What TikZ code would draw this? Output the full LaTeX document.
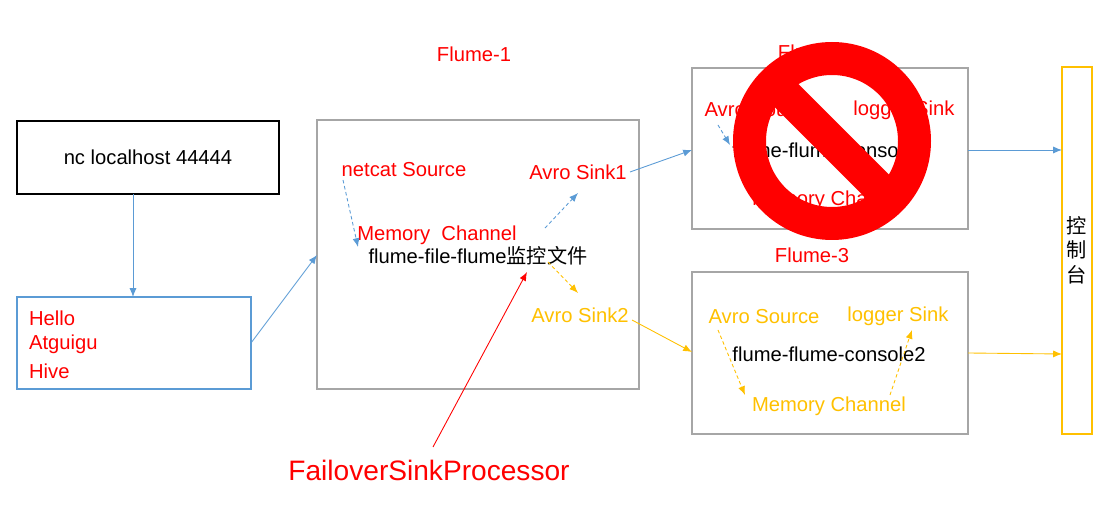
\documentclass[tikz,border=0pt]{standalone}
\usepackage{fontspec}
\setmainfont{Liberation Sans}
\newfontfamily\cjk{Noto Sans CJK SC}
\usetikzlibrary{arrows.meta}
\definecolor{lblue}{RGB}{91,155,213}
\definecolor{lorange}{RGB}{255,192,0}
\definecolor{lgray}{RGB}{166,166,166}
\begin{document}
\begin{tikzpicture}[x=0.02cm,y=-0.02cm,
  txt/.style={font=\fontsize{11.5}{13}\selectfont, inner sep=1pt},
  rtx/.style={txt, text=red},
  otx/.style={txt, text=lorange},
  box/.style={draw=lgray, line width=0.8pt},
  arr/.style={-{Latex[length=5pt,width=4pt]}, line width=0.5pt},
  darr/.style={arr, dashed, dash pattern=on 2pt off 1.5pt}]
\useasboundingbox (0,0) rectangle (1110,506);

% input side
\node[draw, line width=0.8pt, minimum width=262*0.02cm, minimum height=73*0.02cm, txt] (nc) at (148,157.5) {nc localhost 44444};
\node[draw=lblue, line width=0.8pt, minimum width=234*0.02cm, minimum height=92*0.02cm] (hello) at (134,343) {};
\node[rtx, anchor=west] (h1) at (27,318) {Hello};
\node[rtx, anchor=west] (h2) at (27,344) {Atguigu};
\node[rtx, anchor=west] (h3) at (27,371) {Hive};

% Flume-1
\node[box, minimum width=322*0.02cm, minimum height=269*0.02cm] (f1) at (478,254.5) {};
\node[rtx] (f1l) at (474,54) {Flume-1};
\node[rtx] (src1) at (404,170) {netcat Source};
\node[rtx] (ch1) at (437,235) {Memory\ \ Channel};
\node[txt] (t1) at (478,256) {flume-file-flume{\cjk 监控文件}};
\node[rtx] (sk1) at (578,172) {Avro Sink1};
\node[otx] (sk2) at (580,315) {Avro Sink2};

% Flume-2
\node[box, minimum width=276*0.02cm, minimum height=161*0.02cm] (f2) at (830,148.5) {};
\node[rtx] (f2l) at (815,52) {Flume-2};
\node[rtx] (src2) at (760,110) {Avro Source};
\node[rtx] (sk2b) at (904,110) {logger Sink};
\node[txt] (t2) at (829,150) {flume-flume-console1};
\node[rtx] (ch2) at (829,200) {Memory Channel};

% Flume-3
\node[box, minimum width=276*0.02cm, minimum height=162*0.02cm] (f3) at (830,353) {};
\node[rtx] (f3l) at (812,255) {Flume-3};
\node[otx] (src3) at (764,317) {Avro Source};
\node[otx] (sk3) at (898,316) {logger Sink};
\node[txt] (t3) at (829,354) {flume-flume-console2};
\node[otx] (ch3) at (829,406) {Memory Channel};

% console
\node[draw=lorange, line width=0.8pt, minimum width=30*0.02cm, minimum height=367*0.02cm] (con) at (1077,250.5) {};
\node[txt, align=center, font=\fontsize{11.5}{14}\cjk] (cont) at (1077,250) {控\\制\\台};

\node[rtx, font=\fontsize{16}{18}\selectfont] (fsp) at (429,470) {FailoverSinkProcessor};

% connectors
\coordinate (a1) at (133,194); \coordinate (a2) at (133,297);
\draw[arr, lblue] (a1) -- (a2);
\coordinate (b1) at (251,343); \coordinate (b2) at (317,255);
\draw[arr, lblue] (b1) -- (b2);
\coordinate (c1) at (630,172); \coordinate (c2) at (692,150);
\draw[arr, lblue] (c1) -- (c2);
\coordinate (d1) at (968,150); \coordinate (d2) at (1062,150);
\draw[arr, lblue] (d1) -- (d2);
\coordinate (e1) at (632,320); \coordinate (e2) at (692,352);
\draw[arr, lorange] (e1) -- (e2);
\coordinate (g1) at (968,353); \coordinate (g2) at (1062,354);
\draw[arr, lorange] (g1) -- (g2);

\coordinate (p1) at (343,180); \coordinate (p2) at (358,247);
\draw[darr, lblue] (p1) -- (p2);
\coordinate (q1) at (545,228); \coordinate (q2) at (578,193);
\draw[darr, lblue] (q1) -- (q2);
\coordinate (r1) at (548,262); \coordinate (r2) at (578,293);
\draw[darr, lorange] (r1) -- (r2);
\coordinate (s1) at (718,125); \coordinate (s2) at (730,145);
\draw[darr, lblue] (s1) -- (s2);
\coordinate (u1) at (718,330); \coordinate (u2) at (745,395);
\draw[darr, lorange] (u1) -- (u2);
\coordinate (v1) at (890,395); \coordinate (v2) at (912,330);
\draw[darr, lorange] (v1) -- (v2);

\coordinate (w1) at (433,447); \coordinate (w2) at (527,272);
\draw[arr, red] (w1) -- (w2);

% prohibition sign
\fill[red, even odd rule] (832,141) circle[radius=99*0.02cm] (832,141) circle[radius=66*0.02cm];
\begin{scope}
  \clip (832,141) circle[radius=80*0.02cm];
  \draw[red, line width=0.66cm] (752,61) -- (912,221);
\end{scope}
\end{tikzpicture}
\end{document}
